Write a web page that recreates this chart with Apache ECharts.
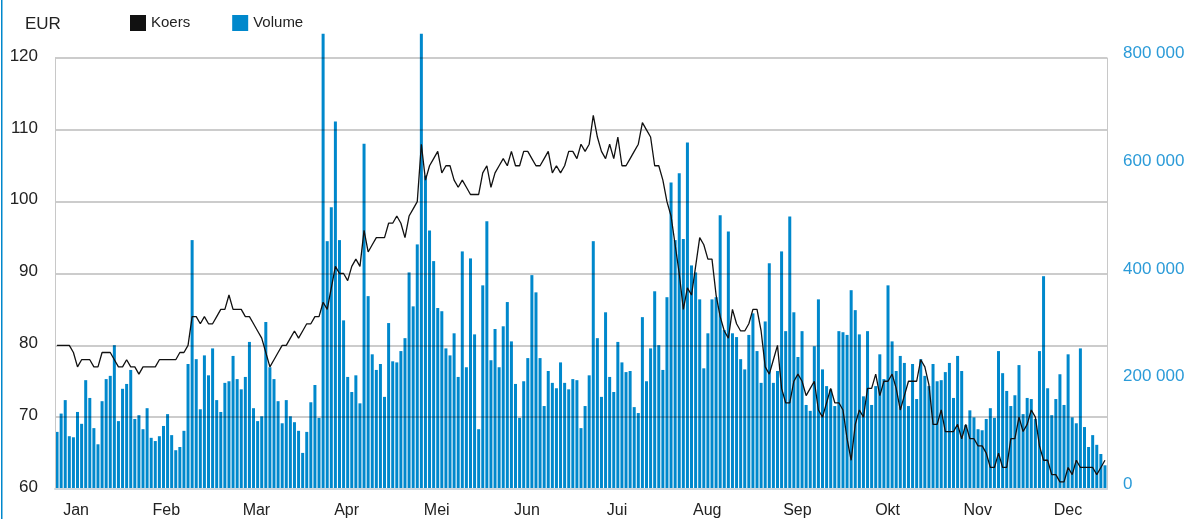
<!DOCTYPE html>
<html><head><meta charset="utf-8">
<script src="https://cdn.jsdelivr.net/npm/echarts@6/dist/echarts.min.js"></script>
<style>html,body{margin:0;padding:0;background:#fff}#c{width:1197px;height:519px}</style>
</head><body><div id="c"></div>
<script>
const months = ['Jan','Feb','Mar','Apr','Mei','Jun','Jui','Aug','Sep','Okt','Nov','Dec'];
// Volume (thousands of shares per trading day)
const volumeK = [
106,140,165,98,96,143,121,202,169,113,83,163,204,210,267,126,186,195,221,130,137,111,150,95,89,98,117,139,100,72,78,108,232,
462,241,148,248,211,261,165,143,197,200,247,204,185,208,273,150,126,135,310,226,204,163,122,165,135,124,108,67,106,161,193,132,
845,460,523,682,462,313,208,180,211,159,641,358,250,221,232,171,308,237,235,256,280,402,339,454,845,582,480,423,336,330,261,248,
289,208,441,226,428,287,111,378,497,239,297,226,302,347,274,195,132,200,243,397,365,243,154,219,197,187,235,197,185,204,202,113,
154,211,460,280,171,328,208,180,273,235,217,219,152,141,319,200,261,367,267,221,356,569,462,586,464,643,415,402,352,224,289,
352,356,508,295,478,289,282,241,222,286,326,256,197,311,419,197,219,441,293,506,328,245,293,156,145,265,352,222,191,185,154,293,
291,286,369,332,287,172,293,156,191,250,204,378,274,219,247,234,154,232,167,241,210,191,232,200,202,217,234,169,247,219,119,146,
133,111,109,130,150,132,256,215,182,154,174,230,139,169,167,130,256,395,187,137,167,213,156,250,133,122,261,115,78,100,82,65,44
];
// Koers (EUR)
const koers = [
80,80,80,80,79,77,78,78,78,77,77,79,79,79,78,77,77,78,77,77,76,77,77,77,77,78,78,78,78,78,79,79,80,
84,84,83,84,83,83,84,85,85,87,85,85,85,84,84,83,82,81,79,77,78,79,80,80,81,82,81,82,83,83,84,84,
86,85,88,91,90,90,89,91,92,91,96,93,94,95,95,95,97,97,98,97,95,98,99,100,108,103,105,106,107,104,105,105,
103,102,103,102,101,101,101,104,105,102,104,105,106,105,107,105,105,107,107,106,105,105,106,107,104,105,104,105,107,107,106,108,
107,108,112,109,107,106,108,106,109,105,105,106,107,108,111,110,109,105,105,103,100,98,94,90,85,88,87,91,95,94,92,
92,87,84,82,81,85,83,82,82,83,85,85,82,77,76,78,80,74,72,72,75,76,75,73,74,75,71,70,72,74,72,72,
71,67,64,69,71,70,74,74,76,73,75,75,76,74,71,73,75,75,75,78,77,74.5,69,69,71,68,68,68,69,67,69,67,
67,66,66,65,63,63,65,63,63,67,67,70,68,69,71,70,66,64,64,62,62,61,61,63,62,64,63,63,63,63,62,63,64
];
const volume = volumeK.map(v => v * 1000);
const days = volume.map((_, i) => String(i + 1));

const chart = echarts.init(document.getElementById('c'), null, {renderer: 'canvas'});
const FONT = "'Liberation Sans', Arial, sans-serif";
chart.setOption({
  animation: false,
  textStyle: {fontFamily: FONT},
  title: {text: 'EUR', left: 20, top: 11, textStyle: {fontSize: 17, fontWeight: 'normal', color: '#222', fontFamily: FONT}},
  legend: {
    data: ['Koers', 'Volume'], left: 125, top: 10, icon: 'rect',
    itemWidth: 16, itemHeight: 16, itemGap: 42,
    textStyle: {fontSize: 15, color: '#222', fontFamily: FONT}
  },
  graphic: [{type: 'rect', shape: {x: 1, y: 0, width: 1.5, height: 519}, style: {fill: '#0088cc'}, silent: true}],
  grid: [
    {left: 55, right: 90, top: 58, bottom: 30},
    {left: 31, right: 84, top: 58, bottom: 30}
  ],
  xAxis: [
    {type: 'category', data: days, boundaryGap: true, gridIndex: 0,
     axisLine: {show: true, lineStyle: {color: '#cfd6dc', width: 2}},
     axisTick: {show: false}, axisLabel: {show: false}, splitLine: {show: false}, z: 3},
    {type: 'category', data: months, boundaryGap: true, gridIndex: 1,
     axisLine: {show: false}, axisTick: {show: false}, splitLine: {show: false},
     axisLabel: {color: '#222', fontSize: 16, margin: 15, fontFamily: FONT}}
  ],
  yAxis: [
    {type: 'value', gridIndex: 0, position: 'left', min: 60, max: 120, interval: 10, z: 3,
     axisLine: {show: true, lineStyle: {color: '#c8c8c8', width: 1}},
     axisTick: {show: false},
     splitLine: {show: true, lineStyle: {color: 'rgba(0,0,0,0.2)', width: 2}},
     axisLabel: {color: '#222', fontSize: 17, margin: 17, fontFamily: FONT, verticalAlign: 'bottom', lineHeight: 4}},
    {type: 'value', gridIndex: 0, position: 'right', min: 0, max: 800000, interval: 200000, z: 3,
     axisLine: {show: true, lineStyle: {color: '#c8c8c8', width: 1}},
     axisTick: {show: false}, splitLine: {show: false},
     axisLabel: {color: '#2b9bd8', fontSize: 17, margin: 16, fontFamily: FONT, verticalAlign: 'bottom', lineHeight: 9,
       formatter: v => String(v).replace(/\B(?=(\d{3})+(?!\d))/g, ' ')}},
    {type: 'value', gridIndex: 1, show: false, min: 0, max: 1}
  ],
  series: [
    {name: 'Volume', type: 'bar', xAxisIndex: 0, yAxisIndex: 1, data: volume,
     barWidth: 3, clip: false, itemStyle: {color: '#0088cc'}, z: 2},
    {name: 'Koers', type: 'line', xAxisIndex: 0, yAxisIndex: 0, data: koers,
     showSymbol: false, symbol: 'none', itemStyle: {color: '#111'},
     lineStyle: {color: '#111', width: 1.3}, z: 5}
  ]
});
</script>
</body></html>
